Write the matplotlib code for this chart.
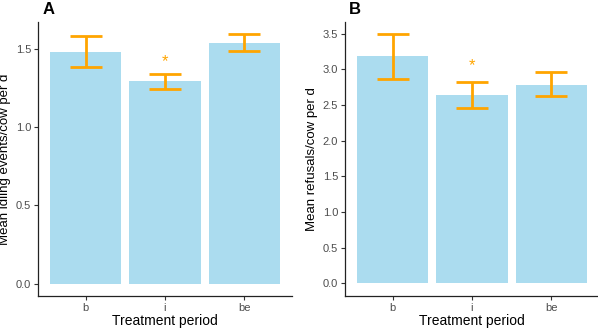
import matplotlib
matplotlib.use("Agg")
import matplotlib.pyplot as plt
import numpy as np

plt.rcParams['font.family'] = ['Liberation Sans', 'DejaVu Sans']

categories = ["b", "i", "be"]

# Panel A: idling events
idling_mean = [1.482, 1.294, 1.542]
idling_upper = [1.583, 1.339, 1.600]
idling_lower = [1.386, 1.249, 1.491]
idling_star = 1.42

# Panel B: refusals
refusal_mean = [3.19, 2.64, 2.78]
refusal_upper = [3.50, 2.82, 2.97]
refusal_lower = [2.87, 2.46, 2.63]
refusal_star = 3.06

ylabelA = "Mean idling events/cow per d"
ylabelB = "Mean refusals/cow per d"
xlabel = "Treatment period"

W, H = 598, 330
fig = plt.figure(figsize=(W / 100, H / 100), dpi=100)

bar_color = "#ABDCEF"
err_color = "#FFA500"


def px_axes(l, r, t, b):
    return fig.add_axes([l / W, (H - b) / H, (r - l) / W, (b - t) / H])


def draw(ax, means, lo, hi, star, ylim, yticks, ylabel, letter, letter_x, axw):
    x = np.arange(1, len(categories) + 1)
    ax.bar(x, means, width=0.9, color=bar_color, zorder=1)
    means = np.array(means)
    yerr = np.array([means - np.array(lo), np.array(hi) - means])
    ax.errorbar(x, means, yerr=yerr, fmt='none', ecolor=err_color,
                elinewidth=2.0, capsize=11.5, capthick=2.0, zorder=3)
    ax.text(2, star, "*", color=err_color, ha='center', va='center', fontsize=12)
    ax.set_xlim(0.4, 3.6)
    ax.set_ylim(*ylim)
    ax.set_xticks(x)
    ax.set_xticklabels(categories)
    ax.set_yticks(yticks)
    ax.set_yticklabels([f"{v:.1f}" for v in yticks])
    for s in ['top', 'right']:
        ax.spines[s].set_visible(False)
    for s in ['left', 'bottom']:
        ax.spines[s].set_linewidth(0.9)
        ax.spines[s].set_color('#222222')
    ax.tick_params(axis='both', length=3, width=0.8, color='#333333',
                   labelsize=8, labelcolor='#4D4D4D', pad=2)
    ax.set_xlabel(xlabel, fontsize=10, labelpad=1)
    ax.set_ylabel(ylabel, fontsize=9.5)
    ax.yaxis.set_label_coords(-27 / axw, 0.5)
    fig.text(letter_x / W, 1 - 9 / H, letter, fontsize=12, fontweight='bold',
             ha='left', va='center')


axA = px_axes(38, 292, 22, 296)
draw(axA, idling_mean, idling_lower, idling_upper, idling_star,
     (-0.08, 1.675), [0.0, 0.5, 1.0, 1.5], ylabelA, "A", 43, 254)

axB = px_axes(345, 599, 22, 296)
draw(axB, refusal_mean, refusal_lower, refusal_upper, refusal_star,
     (-0.178, 3.665), [0.0, 0.5, 1.0, 1.5, 2.0, 2.5, 3.0, 3.5], ylabelB, "B", 349, 254)

fig.savefig("out.png", dpi=100)
